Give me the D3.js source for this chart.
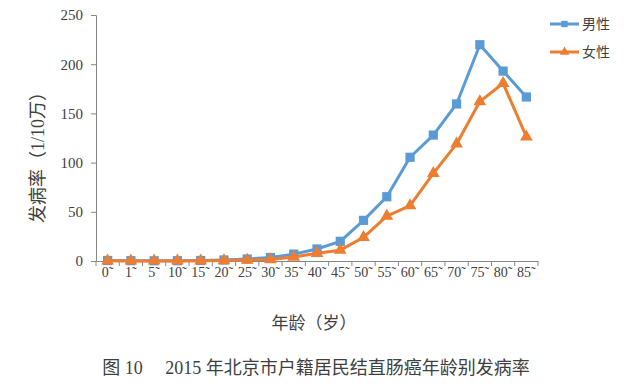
<!DOCTYPE html>
<html lang="zh">
<head>
<meta charset="UTF-8">
<title>2015年北京市户籍居民结直肠癌年龄别发病率</title>
<script src="https://d3js.org/d3.v7.min.js"></script>
<style>
  body { margin: 0; background: #fff; }
  svg { display: block; }
  text { fill: #404040; }
</style>
</head>
<body>
<svg width="640" height="384"></svg>
<script>
// age groups and incidence rates (per 100,000)
const ages = ['0~', '1~', '5~', '10~', '15~', '20~', '25~', '30~', '35~', '40~',
              '45~', '50~', '55~', '60~', '65~', '70~', '75~', '80~', '85~'];
const male = [0.5, 0.3, 0.2, 0.3, 0.5, 1, 2, 3.5, 7, 12.2,
              20, 41.3, 65.3, 105.4, 128, 159.6, 219.8, 193, 166.7];
const female = [0.2, 0.1, 0.1, 0.1, 0.2, 0.5, 1, 1.5, 4, 7.8,
                11, 24, 45.7, 56.2, 89, 119, 162, 180.6, 126.3];
const yTicks = [0, 50, 100, 150, 200, 250];

const serif = '"Liberation Serif", "DejaVu Serif", "Noto Sans CJK SC", serif';
const cjk = '"Noto Sans CJK SC", sans-serif';

const plot = { left: 96, right: 538, top: 15, bottom: 261 };

const svg = d3.select('svg');

const x = d3.scaleBand()
    .domain(ages)
    .range([plot.left, plot.right]);

const y = d3.scaleLinear()
    .domain([0, 250])
    .range([plot.bottom, plot.top]);

// y axis
const yAxis = svg.append('g')
    .attr('transform', `translate(${plot.left},0)`)
    .call(d3.axisLeft(y).tickValues(yTicks).tickSize(5).tickPadding(8));
yAxis.select('.domain').attr('stroke', '#868686');
yAxis.selectAll('.tick line').attr('stroke', '#868686');
yAxis.selectAll('.tick text')
    .attr('font-family', serif)
    .attr('font-size', 15)
    .attr('fill', '#404040');

// x axis, ticks between categories; tilde drawn small and raised as in the source
const xAxis = svg.append('g')
    .attr('transform', `translate(0,${plot.bottom})`)
    .call(d3.axisBottom(x).tickSize(0).tickPadding(6).tickFormat(d => d.replace('~', '˜')));
xAxis.select('.domain').attr('stroke', '#868686');
xAxis.selectAll('.tick text')
    .attr('font-family', serif)
    .attr('font-size', 14)
    .attr('fill', '#404040');
xAxis.selectAll('.sep')
    .data(ages.concat(['end']))
  .enter().append('line')
    .attr('class', 'sep')
    .attr('x1', (d, i) => plot.left + i * x.bandwidth())
    .attr('x2', (d, i) => plot.left + i * x.bandwidth())
    .attr('y1', 0)
    .attr('y2', 5)
    .attr('stroke', '#868686');

const series = [
  { name: '男性', values: male, color: '#5B9BD5', shape: d3.symbolSquare, size: 85 },
  { name: '女性', values: female, color: '#ED7D31', shape: d3.symbolTriangle, size: 70 }
];

const line = d3.line()
    .x((d, i) => x(ages[i]) + x.bandwidth() / 2)
    .y(d => y(d));

series.forEach(s => {
  svg.append('path')
      .datum(s.values)
      .attr('fill', 'none')
      .attr('stroke', s.color)
      .attr('stroke-width', 3)
      .attr('stroke-linejoin', 'round')
      .attr('d', line);

  svg.selectAll(null)
      .data(s.values)
    .enter().append('path')
      .attr('d', d3.symbol().type(s.shape).size(s.size))
      .attr('transform', (d, i) => `translate(${x(ages[i]) + x.bandwidth() / 2},${y(d)})`)
      .attr('fill', s.color);
});

// legend
const legend = svg.append('g');
series.forEach((s, i) => {
  const ly = 24 + i * 28;
  legend.append('line')
      .attr('x1', 550).attr('x2', 579)
      .attr('y1', ly).attr('y2', ly)
      .attr('stroke', s.color)
      .attr('stroke-width', 3);
  legend.append('path')
      .attr('d', d3.symbol().type(s.shape).size(40))
      .attr('transform', `translate(564.5,${ly})`)
      .attr('fill', s.color);
  legend.append('text')
      .attr('x', 582)
      .attr('y', ly)
      .attr('dy', '0.35em')
      .attr('font-family', cjk)
      .attr('font-size', 14)
      .text(s.name);
});

// axis titles
svg.append('text')
    .attr('transform', 'translate(38,153) rotate(-90)')
    .attr('text-anchor', 'middle')
    .attr('dy', '0.35em')
    .attr('font-family', serif)
    .attr('font-size', 18)
    .text('发病率（1/10万）');

svg.append('text')
    .attr('x', 314)
    .attr('y', 323)
    .attr('text-anchor', 'middle')
    .attr('dy', '0.35em')
    .attr('font-family', serif)
    .attr('font-size', 17)
    .text('年龄（岁）');

// caption
svg.append('text')
    .attr('x', 316)
    .attr('y', 368)
    .attr('text-anchor', 'middle')
    .attr('dy', '0.35em')
    .attr('font-family', serif)
    .attr('font-size', 18)
    .attr('fill', '#333')
    .text('图 10\u3000 2015 年北京市户籍居民结直肠癌年龄别发病率');
</script>
</body>
</html>
